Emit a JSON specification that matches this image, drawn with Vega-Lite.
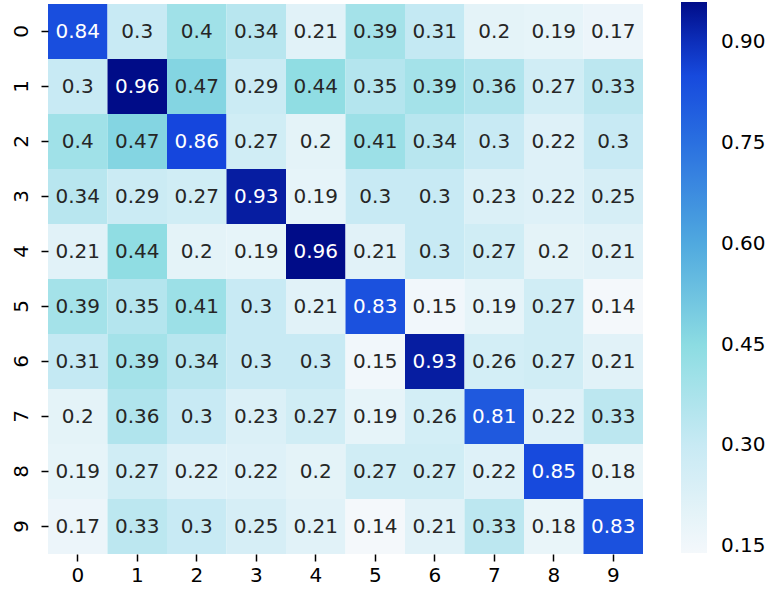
{
  "$schema": "https://vega.github.io/schema/vega-lite/v6.json",
  "width": 595,
  "height": 550,
  "autosize": "none",
  "padding": {"left": 48, "top": 4, "right": 136, "bottom": 38},
  "background": "white",
  "config": {
    "view": {"stroke": null},
    "font": "DejaVu Sans",
    "axis": {"labelFont": "DejaVu Sans", "labelFontSize": 20, "labelColor": "#000000", "tickColor": "#000000", "tickSize": 7, "tickWidth": 1.5, "domain": false, "grid": false, "title": null},
    "legend": {"labelFont": "DejaVu Sans", "labelFontSize": 20, "labelColor": "#000000"}
  },
  "data": {"values": [
    {"r":0,"c":0,"v":0.84},{"r":0,"c":1,"v":0.3},{"r":0,"c":2,"v":0.4},{"r":0,"c":3,"v":0.34},{"r":0,"c":4,"v":0.21},{"r":0,"c":5,"v":0.39},{"r":0,"c":6,"v":0.31},{"r":0,"c":7,"v":0.2},{"r":0,"c":8,"v":0.19},{"r":0,"c":9,"v":0.17},
    {"r":1,"c":0,"v":0.3},{"r":1,"c":1,"v":0.96},{"r":1,"c":2,"v":0.47},{"r":1,"c":3,"v":0.29},{"r":1,"c":4,"v":0.44},{"r":1,"c":5,"v":0.35},{"r":1,"c":6,"v":0.39},{"r":1,"c":7,"v":0.36},{"r":1,"c":8,"v":0.27},{"r":1,"c":9,"v":0.33},
    {"r":2,"c":0,"v":0.4},{"r":2,"c":1,"v":0.47},{"r":2,"c":2,"v":0.86},{"r":2,"c":3,"v":0.27},{"r":2,"c":4,"v":0.2},{"r":2,"c":5,"v":0.41},{"r":2,"c":6,"v":0.34},{"r":2,"c":7,"v":0.3},{"r":2,"c":8,"v":0.22},{"r":2,"c":9,"v":0.3},
    {"r":3,"c":0,"v":0.34},{"r":3,"c":1,"v":0.29},{"r":3,"c":2,"v":0.27},{"r":3,"c":3,"v":0.93},{"r":3,"c":4,"v":0.19},{"r":3,"c":5,"v":0.3},{"r":3,"c":6,"v":0.3},{"r":3,"c":7,"v":0.23},{"r":3,"c":8,"v":0.22},{"r":3,"c":9,"v":0.25},
    {"r":4,"c":0,"v":0.21},{"r":4,"c":1,"v":0.44},{"r":4,"c":2,"v":0.2},{"r":4,"c":3,"v":0.19},{"r":4,"c":4,"v":0.96},{"r":4,"c":5,"v":0.21},{"r":4,"c":6,"v":0.3},{"r":4,"c":7,"v":0.27},{"r":4,"c":8,"v":0.2},{"r":4,"c":9,"v":0.21},
    {"r":5,"c":0,"v":0.39},{"r":5,"c":1,"v":0.35},{"r":5,"c":2,"v":0.41},{"r":5,"c":3,"v":0.3},{"r":5,"c":4,"v":0.21},{"r":5,"c":5,"v":0.83},{"r":5,"c":6,"v":0.15},{"r":5,"c":7,"v":0.19},{"r":5,"c":8,"v":0.27},{"r":5,"c":9,"v":0.14},
    {"r":6,"c":0,"v":0.31},{"r":6,"c":1,"v":0.39},{"r":6,"c":2,"v":0.34},{"r":6,"c":3,"v":0.3},{"r":6,"c":4,"v":0.3},{"r":6,"c":5,"v":0.15},{"r":6,"c":6,"v":0.93},{"r":6,"c":7,"v":0.26},{"r":6,"c":8,"v":0.27},{"r":6,"c":9,"v":0.21},
    {"r":7,"c":0,"v":0.2},{"r":7,"c":1,"v":0.36},{"r":7,"c":2,"v":0.3},{"r":7,"c":3,"v":0.23},{"r":7,"c":4,"v":0.27},{"r":7,"c":5,"v":0.19},{"r":7,"c":6,"v":0.26},{"r":7,"c":7,"v":0.81},{"r":7,"c":8,"v":0.22},{"r":7,"c":9,"v":0.33},
    {"r":8,"c":0,"v":0.19},{"r":8,"c":1,"v":0.27},{"r":8,"c":2,"v":0.22},{"r":8,"c":3,"v":0.22},{"r":8,"c":4,"v":0.2},{"r":8,"c":5,"v":0.27},{"r":8,"c":6,"v":0.27},{"r":8,"c":7,"v":0.22},{"r":8,"c":8,"v":0.85},{"r":8,"c":9,"v":0.18},
    {"r":9,"c":0,"v":0.17},{"r":9,"c":1,"v":0.33},{"r":9,"c":2,"v":0.3},{"r":9,"c":3,"v":0.25},{"r":9,"c":4,"v":0.21},{"r":9,"c":5,"v":0.14},{"r":9,"c":6,"v":0.21},{"r":9,"c":7,"v":0.33},{"r":9,"c":8,"v":0.18},{"r":9,"c":9,"v":0.83}
  ]},
  "encoding": {
    "x": {"field": "c", "type": "ordinal", "scale": {"paddingInner": 0, "paddingOuter": 0}, "axis": {"labelAngle": 0, "labelPadding": 4}},
    "y": {"field": "r", "type": "ordinal", "scale": {"paddingInner": 0, "paddingOuter": 0}, "axis": {"labelAngle": -90, "labelAlign": "center", "labelBaseline": "alphabetic", "labelPadding": 14}}
  },
  "layer": [
    {
      "mark": {"type": "rect", "strokeWidth": 0},
      "encoding": {
        "color": {
          "field": "v", "type": "quantitative",
          "scale": {"domain": [0.14, 0.3, 0.45, 0.6, 0.75, 0.86, 0.96], "range": ["#f4f8fb", "#c8eaf4", "#8cdce2", "#50a9df", "#2a70e0", "#1546dd", "#000c88"], "interpolate": "rgb"},
          "legend": {
            "orient": "none", "legendX": 633, "legendY": -2, "direction": "vertical",
            "title": null, "gradientLength": 551, "gradientThickness": 26,
            "gradientStrokeWidth": 0,
            "values": [0.15, 0.3, 0.45, 0.6, 0.75, 0.9], "format": ".2f",
            "labelOffset": 14
          }
        }
      }
    },
    {
      "mark": {"type": "text", "fontSize": 20, "font": "DejaVu Sans"},
      "encoding": {
        "text": {"field": "v", "type": "quantitative"},
        "color": {"condition": {"test": "datum.v > 0.6", "value": "#ffffff"}, "value": "#262626"}
      }
    }
  ]
}
